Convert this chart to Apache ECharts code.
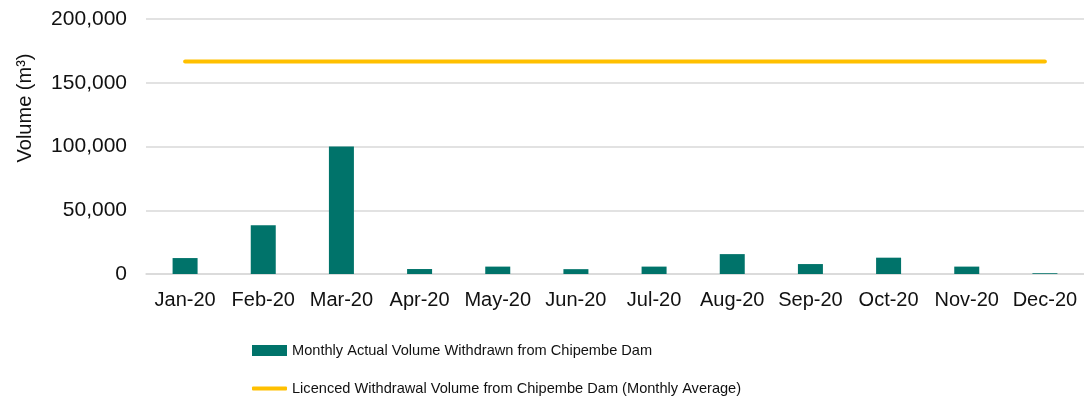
<!DOCTYPE html>
<html>
<head>
<meta charset="utf-8">
<script src="https://cdn.jsdelivr.net/npm/echarts@6/dist/echarts.min.js"></script>
<style>
  html, body { margin: 0; padding: 0; background: #fff; }
  #main { width: 1084px; height: 403px; }
</style>
</head>
<body>
<div id="main"></div>
<script>
// data
var months = ['Jan-20', 'Feb-20', 'Mar-20', 'Apr-20', 'May-20', 'Jun-20',
              'Jul-20', 'Aug-20', 'Sep-20', 'Oct-20', 'Nov-20', 'Dec-20'];
var actualVolume = [12500, 38300, 100000, 3900, 5800, 3800, 5800, 15600, 7800, 12800, 5800, 600];
var licencedVolume = [166667, 166667, 166667, 166667, 166667, 166667,
                      166667, 166667, 166667, 166667, 166667, 166667];
var yTicks = [0, 50000, 100000, 150000, 200000];

var seriesNames = ['Monthly Actual Volume Withdrawn from Chipembe Dam',
                   'Licenced Withdrawal Volume from Chipembe Dam (Monthly Average)'];

var myChart = echarts.init(document.getElementById('main'));
var font = "'Liberation Sans', Arial, sans-serif";

var legendText = {
    fontFamily: font,
    fontSize: 14.6,
    lineHeight: 15,
    color: '#111'
};

var option = {
    backgroundColor: '#fff',
    animation: false,
    grid: {
        left: 146,
        right: 0,
        top: 19,
        bottom: 129     // zero line sits at y=274
    },
    // two legends so each row gets its own icon size
    legend: [{
        left: 247,
        top: 338,
        itemWidth: 35,
        itemHeight: 11,
        data: [{ name: seriesNames[0], icon: 'rect' }],
        textStyle: legendText
    }, {
        left: 247,
        top: 376,
        itemWidth: 35,
        itemHeight: 4,
        data: [{ name: seriesNames[1], icon: 'roundRect' }],
        itemStyle: { color: '#ffc000', borderWidth: 0 },
        textStyle: legendText
    }],
    graphic: [{
        type: 'text',
        x: 25,
        y: 108,
        rotation: Math.PI / 2,
        style: {
            text: 'Volume (m³)',
            font: '20px ' + font,
            fill: '#111',
            textAlign: 'center',
            textVerticalAlign: 'middle'
        }
    }],
    xAxis: {
        type: 'category',
        data: months,
        boundaryGap: true,
        axisLine: { lineStyle: { color: '#d9d9d9', width: 1.5 } },
        axisTick: { show: false },
        axisLabel: {
            color: '#111',
            fontFamily: font,
            fontSize: 20,
            margin: 16,
            interval: 0
        }
    },
    yAxis: {
        type: 'value',
        min: yTicks[0],
        max: yTicks[yTicks.length - 1],
        interval: 50000,
        axisLine: { show: false },
        axisTick: { show: false },
        splitLine: { lineStyle: { color: '#d9d9d9', width: 1.5 } },
        axisLabel: {
            color: '#111',
            fontFamily: font,
            fontSize: 21,
            margin: 19,
            formatter: function (v) { return v.toLocaleString('en-US'); }
        }
    },
    series: [
        {
            name: seriesNames[0],
            type: 'bar',
            data: actualVolume,
            barWidth: 25,
            itemStyle: { color: '#00736a' }
        },
        {
            name: seriesNames[1],
            type: 'line',
            data: licencedVolume,
            symbol: 'none',
            lineStyle: { color: '#ffc000', width: 4, cap: 'round' },
            itemStyle: { color: '#ffc000' }
        }
    ]
};

myChart.setOption(option);
</script>
</body>
</html>
